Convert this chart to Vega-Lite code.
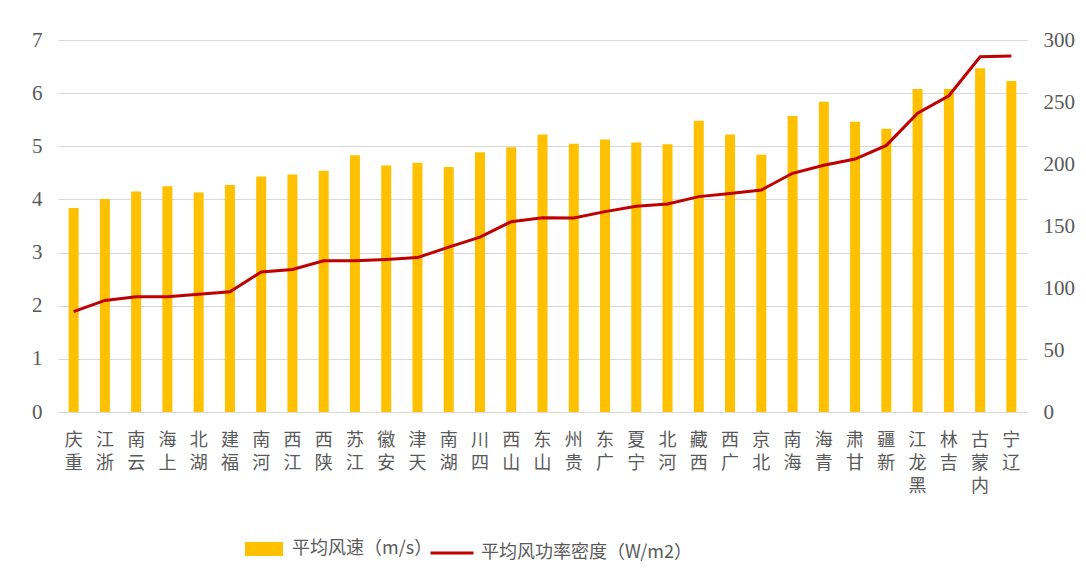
{
  "$schema": "https://vega.github.io/schema/vega-lite/v6.json",
  "width": 969,
  "height": 372,
  "autosize": {"type": "none"},
  "padding": {"left": 58, "top": 40, "right": 59, "bottom": 171},
  "background": "white",
  "config": {"view": {"stroke": null}},
  "data": {"values": [
    {"province": "重庆", "speed": 3.84, "density": 81},
    {"province": "浙江", "speed": 4.01, "density": 90},
    {"province": "云南", "speed": 4.15, "density": 93},
    {"province": "上海", "speed": 4.25, "density": 93},
    {"province": "湖北", "speed": 4.13, "density": 95},
    {"province": "福建", "speed": 4.27, "density": 97},
    {"province": "河南", "speed": 4.43, "density": 113},
    {"province": "江西", "speed": 4.47, "density": 115},
    {"province": "陕西", "speed": 4.54, "density": 122},
    {"province": "江苏", "speed": 4.83, "density": 122},
    {"province": "安徽", "speed": 4.64, "density": 123},
    {"province": "天津", "speed": 4.69, "density": 124.5},
    {"province": "湖南", "speed": 4.61, "density": 133},
    {"province": "四川", "speed": 4.89, "density": 141},
    {"province": "山西", "speed": 4.98, "density": 153.5},
    {"province": "山东", "speed": 5.22, "density": 156.7},
    {"province": "贵州", "speed": 5.05, "density": 156.5},
    {"province": "广东", "speed": 5.13, "density": 161.6},
    {"province": "宁夏", "speed": 5.07, "density": 166},
    {"province": "河北", "speed": 5.04, "density": 167.7},
    {"province": "西藏", "speed": 5.48, "density": 173.7},
    {"province": "广西", "speed": 5.22, "density": 176.3},
    {"province": "北京", "speed": 4.84, "density": 179},
    {"province": "海南", "speed": 5.57, "density": 192.5},
    {"province": "青海", "speed": 5.84, "density": 199},
    {"province": "甘肃", "speed": 5.46, "density": 204},
    {"province": "新疆", "speed": 5.33, "density": 215},
    {"province": "黑龙江", "speed": 6.08, "density": 241},
    {"province": "吉林", "speed": 6.08, "density": 255},
    {"province": "内蒙古", "speed": 6.47, "density": 286.5},
    {"province": "辽宁", "speed": 6.23, "density": 287}
  ]},
  "encoding": {
    "x": {
      "field": "province",
      "type": "nominal",
      "sort": null,
      "scale": {"paddingInner": 0.68, "paddingOuter": 0.34},
      "axis": {
        "title": null,
        "labelAngle": 0,
        "labelExpr": "reverse(split(datum.label, ''))",
        "labelFont": "Noto Sans CJK SC",
        "labelFontSize": 18,
        "labelColor": "#595959",
        "labelLineHeight": 23,
        "labelBaseline": "top",
        "labelAlign": "center",
        "labelPadding": 19,
        "labelOverlap": false,
        "ticks": false,
        "domainColor": "#d9d9d9",
        "domainWidth": 1
      }
    }
  },
  "layer": [
    {
      "mark": {"type": "bar", "color": "#FFC000"},
      "encoding": {
        "y": {
          "field": "speed",
          "type": "quantitative",
          "scale": {"domain": [0, 7], "nice": false},
          "axis": {
            "title": null,
            "values": [0, 1, 2, 3, 4, 5, 6, 7],
            "labelFont": "Liberation Serif",
            "labelFontSize": 21,
            "labelColor": "#595959",
            "labelPadding": 16,
            "ticks": false,
            "domain": false,
            "grid": true,
            "gridColor": "#d9d9d9",
            "gridWidth": 1
          }
        },
        "fill": {
          "datum": "平均风速（m/s）",
          "type": "nominal",
          "scale": {"range": ["#FFC000"]},
          "legend": {
            "orient": "none",
            "legendX": 187,
            "legendY": 490,
            "title": null,
            "padding": 0,
            "symbolType": "M-1,-0.37H1V0.37H-1Z",
            "symbolSize": 1444,
            "symbolStrokeWidth": 0,
            "labelFont": "Noto Sans CJK SC",
            "labelFontSize": 18,
            "labelColor": "#595959",
            "labelOffset": 9,
            "labelLimit": 400
          }
        }
      }
    },
    {
      "mark": {"type": "line", "color": "#C00000", "strokeWidth": 3},
      "encoding": {
        "y": {
          "field": "density",
          "type": "quantitative",
          "scale": {"domain": [0, 300], "nice": false},
          "axis": {
            "title": null,
            "orient": "right",
            "values": [0, 50, 100, 150, 200, 250, 300],
            "labelFont": "Liberation Serif",
            "labelFontSize": 21,
            "labelColor": "#595959",
            "labelPadding": 16,
            "ticks": false,
            "domain": false,
            "grid": false
          }
        },
        "stroke": {
          "datum": "平均风功率密度（W/m2）",
          "type": "nominal",
          "scale": {"range": ["#C00000"]},
          "legend": {
            "orient": "none",
            "legendX": 371,
            "legendY": 490,
            "title": null,
            "padding": 0,
            "symbolType": "stroke",
            "symbolSize": 1849,
            "symbolStrokeWidth": 3,
            "labelFont": "Noto Sans CJK SC",
            "labelFontSize": 18,
            "labelColor": "#595959",
            "labelOffset": 6,
            "labelLimit": 400
          }
        }
      }
    }
  ],
  "resolve": {"scale": {"y": "independent"}}
}
